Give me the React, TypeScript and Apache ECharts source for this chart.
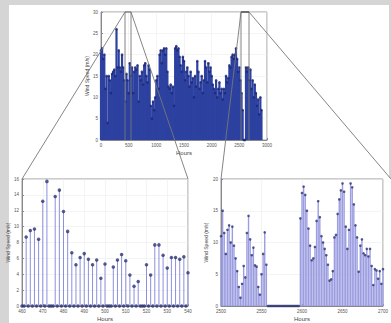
import React, { useEffect, useRef } from "react";
import * as echarts from "echarts";

const topStartHour = 0;
const topStepHours = 20;
const topSpeed = [
  21, 21.5, 19, 20, 12, 15, 4, 15, 14, 11,
  15.5, 16, 16.5, 15, 26, 17, 21, 17, 16, 20,
  17, 14, 9, 15.5, 14, 11, 18, 15, 17, 11,
  16, 17, 16.5, 17.5, 9, 15, 14, 16, 13, 17.5,
  18, 15, 13.5, 17.5, 16.5, 8, 5, 9, 7, 10,
  14, 15, 12, 20, 21, 18, 21, 21.5, 20, 21.5,
  16, 12.5, 12, 13, 11, 12.5, 8, 21.5, 22, 21,
  21.5, 19.5, 17.5, 16, 19.5, 18.5, 14, 16, 17, 15,
  12.5, 16, 13.5, 14.5, 10, 15, 12.5, 18.5, 16, 12,
  13.5, 15, 11, 14, 18.5, 17, 13.5, 18, 16, 17,
  15, 13, 12, 11, 14, 10, 12, 13.5, 11, 12,
  9.5, 12, 11, 15, 13.5, 14.5, 17.5, 17, 19.5, 20,
  19, 20, 21.5, 19, 16, 17, 14, 11, 7, 0,
  0, 17, 16, 17, 14, 16.5, 12, 14, 10, 13,
  11, 8, 9.5, 6, 10, 7,
];
const topXTicks = [0, 500, 1000, 1500, 2000, 2500, 3000];

// Zoom A: hourly, 460 h .. 540 h
const zoomAStartHour = 460;
const zoomAStepHours = 1;
const zoomASpeed = [
  0, 0, 8.7, 0, 9.5, 0, 9.7, 0, 8.4, 0,
  13.2, 0, 15.7, 0, 0, 0, 13.8, 0, 14.6, 0,
  11.9, 0, 9.4, 0, 6.7, 0, 5.2, 0, 6.1, 0,
  6.6, 0, 5.9, 0, 5.2, 0, 5.8, 0, 3.5, 0,
  5.3, 0, 0, 0, 4.9, 0, 5.8, 0, 6.5, 0,
  5.7, 0, 3.9, 0, 2.5, 0, 3.1, 0, 0, 0,
  5.2, 0, 3.9, 0, 7.7, 0, 7.7, 0, 6.4, 0,
  4.8, 0, 6.1, 0, 6.1, 0, 5.9, 0, 6.2, 0,
  4.2,
];
const zoomAXTicks = [460, 470, 480, 490, 500, 510, 520, 530, 540];

// Zoom B: every 2 hours, 2500 h .. 2700 h
const zoomBStartHour = 2500;
const zoomBStepHours = 2;
const zoomBSpeed = [
  11, 15, 11.5, 8.2, 12, 12.7, 10, 12.5, 9.5, 7.5,
  5.5, 3, 1.3, 3.5, 6.3, 4.5, 11.5, 14.2, 10.5, 8,
  9.2, 6.4, 6.2, 3, 1.8, 5, 8.2, 11.6, 6.5, 0,
  0, 0, 0, 0, 0, 0, 0, 0, 0, 0,
  0, 0, 0, 0, 0, 0, 0, 0, 0, 13.8,
  17.8, 18.8, 17.5, 15, 12.2, 9.5, 7.2, 7.5, 9.3, 13.4,
  16.5, 14, 11, 10, 9, 8, 6.5, 4, 4.2, 5.5,
  10.8, 11.2, 14.5, 16.8, 18.2, 19.3, 18, 12.5, 9, 12,
  19.3, 18.7, 16, 12.7, 10.8, 5.4, 9.5, 10.5, 8.3, 8,
  9, 7.8, 9, 6.3, 3.3, 5.8, 5.6, 4.3, 5.5, 3.5,
  5.8,
];
const zoomBXTicks = [2500, 2550, 2600, 2650, 2700];

const yName = "Wind Speed (m/s)";
const xName = "Hours";

const toPairs = (start: number, step: number, vals: number[]) =>
  vals.map((v, i) => [start + i * step, v]);

export default function App() {
  const ref = useRef<HTMLDivElement>(null);

  useEffect(() => {
    if (!ref.current) return;
    const chart = echarts.init(ref.current, undefined, { renderer: "svg" });
    const font = "Liberation Sans, Arial, sans-serif";
    const labelStyle = {
      fontSize: 4.5,
      color: "#555",
      fontFamily: font,
      formatter: (v: number) => String(v),
    };
    const gridStyle = {
      show: true,
      borderColor: "#9a9a9a",
      borderWidth: 1,
      backgroundColor: "#fff",
    };
    const split = { show: true, lineStyle: { color: "#ececec", width: 0.6 } };
    const mkX = (grid: number, ticks: number[], interval: number) => ({
      type: "value" as const,
      gridIndex: grid,
      min: ticks[0],
      max: ticks[ticks.length - 1],
      interval,
      axisLine: { show: true, lineStyle: { color: "#888", width: 1 } },
      axisTick: { show: true, inside: true, length: 2, lineStyle: { color: "#888" } },
      axisLabel: { ...labelStyle, margin: 3, showMaxLabel: true },
      splitLine: split,
      name: xName,
      nameLocation: "middle" as const,
      nameGap: 10,
      nameTextStyle: { fontSize: 6, color: "#444", fontFamily: font },
    });
    const mkY = (grid: number, max: number, interval: number, gap: number) => ({
      type: "value" as const,
      gridIndex: grid,
      min: 0,
      max,
      interval,
      axisLine: { show: true, lineStyle: { color: "#888", width: 1 } },
      axisTick: { show: true, inside: true, length: 2, lineStyle: { color: "#888" } },
      axisLabel: { ...labelStyle, margin: 3 },
      splitLine: split,
      name: yName,
      nameLocation: "middle" as const,
      nameGap: gap,
      nameRotate: 90,
      nameTextStyle: { fontSize: 5, color: "#444", fontFamily: font },
    });

    const line = (x1: number, y1: number, x2: number, y2: number, w = 0.9, c = "#777") => ({
      type: "line",
      z: 100,
      silent: true,
      shape: { x1, y1, x2, y2 },
      style: { stroke: c, lineWidth: w },
    });

    const topData = toPairs(topStartHour, topStepHours, topSpeed);
    const aData = toPairs(zoomAStartHour, zoomAStepHours, zoomASpeed);
    const bData = toPairs(zoomBStartHour, zoomBStepHours, zoomBSpeed);

    chart.setOption({
      animation: false,
      backgroundColor: "#fff",
      grid: [
        { ...gridStyle, left: 101, top: 12, width: 166, height: 128 },
        { ...gridStyle, left: 22, top: 179, width: 166, height: 128 },
        { ...gridStyle, left: 221, top: 179, width: 169, height: 128 },
      ],
      xAxis: [
        mkX(0, topXTicks, 500),
        mkX(1, zoomAXTicks, 10),
        mkX(2, zoomBXTicks, 50),
      ],
      yAxis: [mkY(0, 30, 5, 11), mkY(1, 16, 2, 11), mkY(2, 20, 5, 13)],
      series: [
        {
          type: "bar",
          xAxisIndex: 0,
          yAxisIndex: 0,
          data: topData,
          barWidth: 2.2,
          itemStyle: { color: "#2d41a0" },
        },
        {
          type: "scatter",
          xAxisIndex: 0,
          yAxisIndex: 0,
          data: topData,
          symbolSize: 2.6,
          itemStyle: { color: "#1c2572" },
        },
        {
          type: "bar",
          xAxisIndex: 1,
          yAxisIndex: 1,
          data: aData,
          barWidth: 1,
          itemStyle: { color: "#8c90dc" },
        },
        {
          type: "scatter",
          xAxisIndex: 1,
          yAxisIndex: 1,
          data: aData,
          symbolSize: 3.5,
          itemStyle: { color: "#2c3270" },
        },
        {
          type: "bar",
          xAxisIndex: 2,
          yAxisIndex: 2,
          data: bData,
          barWidth: 1.4,
          itemStyle: { color: "#9b9de0" },
        },
        {
          type: "scatter",
          xAxisIndex: 2,
          yAxisIndex: 2,
          data: bData,
          symbolSize: 2.6,
          itemStyle: { color: "#2c3270" },
        },
      ],
      graphic: [
        { type: "rect", z: -1, silent: true, shape: { x: 0, y: 0, width: 9, height: 323 }, style: { fill: "#d5d5d5" } },
        { type: "rect", z: -1, silent: true, shape: { x: 0, y: 0, width: 391, height: 5 }, style: { fill: "#d5d5d5" } },
        { type: "rect", z: -1, silent: true, shape: { x: 389, y: 0, width: 2, height: 178 }, style: { fill: "#d5d5d5" } },
        line(125, 12, 125, 140),
        line(131, 12, 131, 140),
        line(125, 12, 131, 12, 1.2),
        line(241, 12, 241, 140),
        line(249, 12, 249, 140),
        line(241, 12, 249, 12, 1.6, "#555"),
        line(125, 12, 22, 179),
        line(131, 12, 188, 179),
        line(241, 12, 221, 179),
        line(249, 12, 391, 179),
      ],
    });
    return () => chart.dispose();
  }, []);

  return (
    <div
      ref={ref}
      style={{ position: "absolute", left: 0, top: 0, width: 391, height: 323 }}
    />
  );
}
